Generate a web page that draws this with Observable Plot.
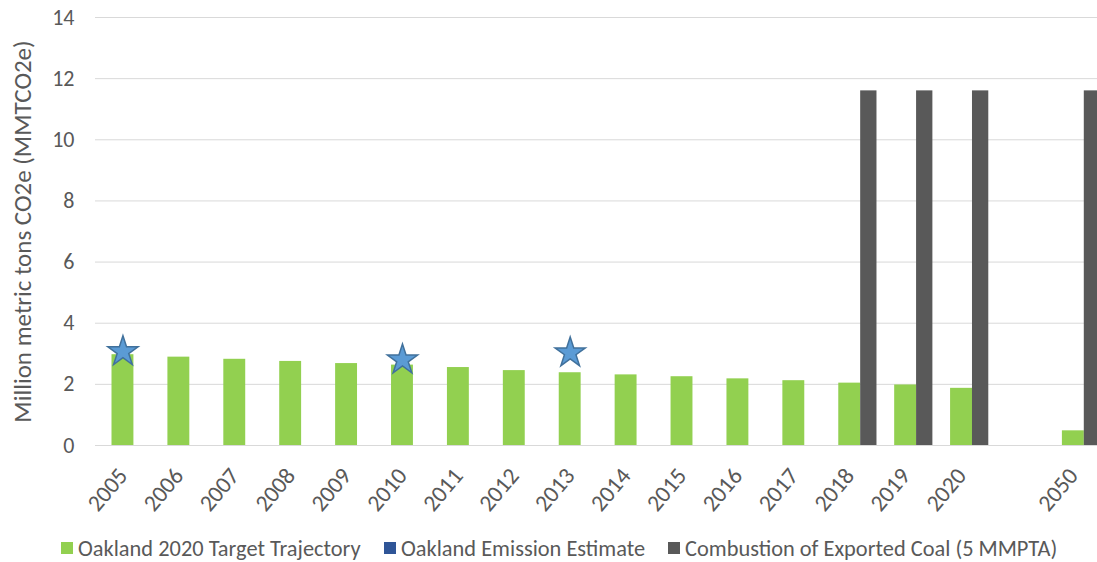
<!DOCTYPE html>
<html>
<head>
<meta charset="utf-8">
<script src="https://cdn.jsdelivr.net/npm/d3@7"></script>
<script src="https://cdn.jsdelivr.net/npm/@observablehq/plot@0.6"></script>
<style>
  body { margin: 0; background: #fff; font-family: Carlito, Lato, "Open Sans", sans-serif; }
  #chart svg { display: block; }
  #legend { position: relative; height: 37px; width: 1097px; }
  .item { position: absolute; top: 11px; display: flex; align-items: center; height: 24px; color: #595959; font-size: 22.4px; white-space: nowrap; }
  .sw { width: 12px; height: 12px; margin-right: 5px; }
</style>
</head>
<body>
<div id="chart"></div>
<div id="legend"></div>
<script>
// categories (the empty "" slot is the gap before 2050)
const years = ["2005","2006","2007","2008","2009","2010","2011","2012","2013","2014","2015","2016","2017","2018","2019","2020","","2050"];
// Oakland 2020 Target Trajectory
const targetYears  = ["2005","2006","2007","2008","2009","2010","2011","2012","2013","2014","2015","2016","2017","2018","2019","2020","2050"];
const targetValues = [2.97, 2.89, 2.82, 2.75, 2.68, 2.63, 2.55, 2.45, 2.38, 2.31, 2.25, 2.18, 2.12, 2.04, 1.98, 1.87, 0.48];
// Oakland Emission Estimate
const estimateYears  = ["2005","2010","2013"];
const estimateValues = [3.07, 2.80, 3.03];
// Combustion of Exported Coal (5 MMPTA)
const coalYears  = ["2018","2019","2020","2050"];
const coalValues = [11.6, 11.6, 11.6, 11.6];
const yTicks = [0, 2, 4, 6, 8, 10, 12, 14];

const seriesNames = ["Oakland 2020 Target Trajectory", "Oakland Emission Estimate", "Combustion of Exported Coal (5 MMPTA)"];
const seriesColors = ["#92D050", "#2F5597", "#595959"];

const target = targetYears.map((y, i) => ({year: y, value: targetValues[i]}));
const estimate = estimateYears.map((y, i) => ({year: y, value: estimateValues[i]}));
const coal = coalYears.map((y, i) => ({year: y, value: coalValues[i]}));

const font = "Carlito, Lato, 'Open Sans', sans-serif";

const chart = Plot.plot({
  width: 1097,
  height: 525,
  marginLeft: 95,
  marginRight: 0,
  marginTop: 17,
  marginBottom: 80,
  style: {fontFamily: font, color: "#595959", background: "#fff"},
  x: {type: "band", domain: years, range: [94.5, 1100.8], padding: 0, round: false},
  y: {domain: [0, 14], ticks: yTicks},
  marks: [
    Plot.ruleY(yTicks, {stroke: "#D9D9D9", strokeWidth: 1}),
    Plot.barY(target, {x: "year", y: "value", fill: seriesColors[0], insetLeft: 17, insetRight: 17}),
    Plot.barY(coal, {x: "year", y: "value", fill: seriesColors[2], insetLeft: 38.9, insetRight: 0.7}),
    Plot.dot(estimate, {x: "year", y: "value", symbol: "star", r: 9.5, fill: "#5B9BD5", stroke: "#41719C", strokeWidth: 1.5}),
    Plot.axisY({ticks: yTicks, tickSize: 0, tickPadding: 21, fontSize: 22, fill: "#595959",
      label: "Million metric tons CO2e (MMTCO2e)", labelAnchor: "center", labelArrow: "none", labelOffset: 82}),
    Plot.axisX({tickSize: 0, tickPadding: 26, tickRotate: -50, fontSize: 23.5, fill: "#595959", label: null,
      tickFormat: d => d})
  ]
});
chart.querySelectorAll("[aria-label='y-axis label'] text").forEach(t => t.setAttribute("font-size", "25"));
document.getElementById("chart").appendChild(chart);

// legend
const lefts = [61, 384, 668];
const legend = document.getElementById("legend");
seriesNames.forEach((name, i) => {
  const item = document.createElement("div");
  item.className = "item";
  item.style.left = lefts[i] + "px";
  const sw = document.createElement("span");
  sw.className = "sw";
  sw.style.background = seriesColors[i];
  item.appendChild(sw);
  item.appendChild(document.createTextNode(name));
  legend.appendChild(item);
});
</script>
</body>
</html>
